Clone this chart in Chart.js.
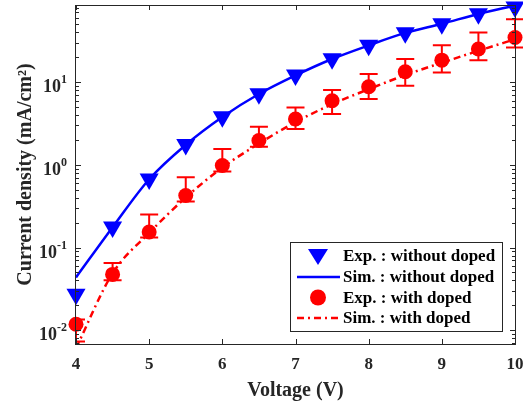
<!DOCTYPE html>
<html>
<head>
<meta charset="utf-8">
<script src="https://cdn.jsdelivr.net/npm/chart.js@4.4.1/dist/chart.umd.min.js"></script>
<style>
  html, body { margin: 0; padding: 0; background: #fff; }
  #wrap { width: 523px; height: 408px; }
</style>
</head>
<body>
<div id="wrap"><canvas id="chart"></canvas></div>
<script>
// Applied voltage (V)
const voltage = [4, 4.5, 5, 5.5, 6, 6.5, 7, 7.5, 8, 8.5, 9, 9.5, 10];

// Current density without doping (mA/cm2)
const expWithout = [0.0272, 0.177, 0.674, 1.76, 3.83, 7.26, 12.2, 19.2, 28.0, 39.6, 50.9, 67.2, 81.6];
const simWithout = [0.0435, 0.176, 0.67, 1.75, 3.8, 7.2, 12.1, 19.1, 27.9, 39.5, 51.0, 67.0, 85.0];

// Current density with doping, plus error bar ends
const expWith = [0.0118, 0.0473, 0.154, 0.426, 0.981, 1.97, 3.59, 5.98, 8.83, 13.4, 18.5, 25.2, 34.8];
const expWithHigh = [0.0135, 0.0648, 0.251, 0.708, 1.56, 2.90, 4.96, 8.05, 12.6, 19.1, 28.1, 39.9, 58.0];
const expWithLow = [0.0073, 0.0401, 0.132, 0.360, 0.830, 1.66, 2.72, 4.13, 6.27, 9.07, 13.1, 18.5, 26.3];
const simWith = [0.00605, 0.0487, 0.150, 0.403, 0.928, 1.81, 3.29, 5.42, 8.23, 12.2, 17.2, 24.0, 33.1];

const seriesLabels = ['Exp. : without doped', 'Sim. : without doped', 'Exp. : with doped', 'Sim. : with doped'];

// axis range and ticks
const xMin = 4, xMax = 10;
const yMin = 0.0068, yMax = 86;
const xTicks = [4, 5, 6, 7, 8, 9, 10];
const yTicks = [0.01, 0.1, 1, 10];
const yTickExp = ['-2', '-1', '0', '1'];

const serif = '"Liberation Serif", "Times New Roman", serif';
const axisColor = '#262626';
const blue = '#0000ff';
const red = '#ff0000';
const dashDot = [7, 4, 2, 4];

function pts(arr) {
    return voltage.map((v, i) => ({ x: v, y: arr[i] }));
}

// error bars for the doped measurements
const errorBarPlugin = {
    id: 'errorBars',
    afterDatasetsDraw(chart) {
        const { ctx, chartArea: a, scales: { x, y } } = chart;
        ctx.save();
        ctx.beginPath();
        ctx.rect(a.left, 0, a.right - a.left + 20, chart.height);
        ctx.clip();
        ctx.strokeStyle = red;
        ctx.lineWidth = 2;
        ctx.beginPath();
        voltage.forEach((v, i) => {
            const px = x.getPixelForValue(v);
            const hi = y.getPixelForValue(expWithHigh[i]);
            const lo = y.getPixelForValue(expWithLow[i]);
            ctx.moveTo(px, hi); ctx.lineTo(px, lo);
            ctx.moveTo(px - 9, hi); ctx.lineTo(px + 9, hi);
            ctx.moveTo(px - 9, lo); ctx.lineTo(px + 9, lo);
        });
        ctx.stroke();
        ctx.restore();
    }
};

// box, inward ticks on all four sides, tick labels
const framePlugin = {
    id: 'frame',
    afterDraw(chart) {
        const { ctx, chartArea: a, scales: { x, y } } = chart;
        ctx.save();
        ctx.strokeStyle = axisColor;
        ctx.lineWidth = 1;
        ctx.strokeRect(a.left - 0.5, a.top + 0.5, a.right - a.left + 1, a.bottom - a.top);
        ctx.beginPath();
        xTicks.forEach(v => {
            const px = Math.round(x.getPixelForValue(v)) + 0.5;
            ctx.moveTo(px, a.bottom); ctx.lineTo(px, a.bottom - 5);
            ctx.moveTo(px, a.top); ctx.lineTo(px, a.top + 5);
        });
        for (let e = Math.floor(Math.log10(yMin)); e <= Math.ceil(Math.log10(yMax)); e++) {
            for (let s = 1; s <= 9; s++) {
                const v = s * Math.pow(10, e);
                if (v < yMin || v > yMax) continue;
                const py = Math.round(y.getPixelForValue(v)) + 0.5;
                const len = s === 1 ? 5 : 3;
                ctx.moveTo(a.left, py); ctx.lineTo(a.left + len, py);
                ctx.moveTo(a.right, py); ctx.lineTo(a.right - len, py);
            }
        }
        ctx.stroke();

        ctx.fillStyle = axisColor;
        ctx.textBaseline = 'alphabetic';
        ctx.textAlign = 'center';
        ctx.font = 'bold 17px ' + serif;
        xTicks.forEach(v => {
            ctx.fillText(String(v), x.getPixelForValue(v), a.bottom + 25);
        });

        ctx.textAlign = 'left';
        const right = a.left - 9;
        yTicks.forEach((v, i) => {
            const py = y.getPixelForValue(v);
            ctx.font = 'bold 12px ' + serif;
            const w2 = ctx.measureText(yTickExp[i]).width;
            ctx.fillText(yTickExp[i], right - w2, py + 1);
            ctx.font = 'bold 18px ' + serif;
            const w1 = ctx.measureText('10').width;
            ctx.fillText('10', right - w2 - w1, py + 10);
        });
        ctx.restore();
    }
};

// legend box inside the plot, lower right
const legendPlugin = {
    id: 'boxLegend',
    afterDraw(chart) {
        const { ctx } = chart;
        const bx = 290, by = 242, bw = 212, bh = 89;
        ctx.save();
        ctx.fillStyle = '#fff';
        ctx.fillRect(bx, by, bw, bh);
        ctx.strokeStyle = axisColor;
        ctx.lineWidth = 1;
        ctx.strokeRect(bx + 0.5, by + 0.5, bw, bh);
        const rows = [256, 277, 297.5, 318];
        const mx = 318;
        // triangle
        ctx.fillStyle = blue;
        ctx.beginPath();
        ctx.moveTo(mx - 10, rows[0] - 7);
        ctx.lineTo(mx + 10, rows[0] - 7);
        ctx.lineTo(mx, rows[0] + 9);
        ctx.closePath();
        ctx.fill();
        // blue line
        ctx.strokeStyle = blue;
        ctx.lineWidth = 2.5;
        ctx.beginPath();
        ctx.moveTo(297, rows[1]); ctx.lineTo(340, rows[1]);
        ctx.stroke();
        // circle
        ctx.fillStyle = red;
        ctx.beginPath();
        ctx.arc(mx, rows[2], 8, 0, Math.PI * 2);
        ctx.fill();
        // dash-dot line
        ctx.strokeStyle = red;
        ctx.setLineDash(dashDot);
        ctx.beginPath();
        ctx.moveTo(297, rows[3]); ctx.lineTo(340, rows[3]);
        ctx.stroke();
        ctx.setLineDash([]);

        ctx.fillStyle = '#000';
        ctx.font = 'bold 17px ' + serif;
        ctx.textBaseline = 'middle';
        seriesLabels.forEach((t, i) => ctx.fillText(t, 343, rows[i] + 1));
        ctx.restore();
    }
};

const chart = new Chart(document.getElementById('chart').getContext('2d'), {
    type: 'line',
    data: {
        datasets: [
            {
                label: seriesLabels[0], data: pts(expWithout), showLine: false,
                pointStyle: 'triangle', rotation: 180, pointRadius: 11,
                backgroundColor: blue, borderColor: blue, borderWidth: 0, clip: false, order: 0
            },
            {
                label: seriesLabels[1], data: pts(simWithout), pointRadius: 0,
                borderColor: blue, borderWidth: 2.5, cubicInterpolationMode: 'monotone', order: 1
            },
            {
                label: seriesLabels[2], data: pts(expWith), showLine: false,
                pointStyle: 'circle', pointRadius: 7.5,
                backgroundColor: red, borderColor: red, borderWidth: 0, clip: false, order: 0
            },
            {
                label: seriesLabels[3], data: pts(simWith), pointRadius: 0,
                borderColor: red, borderWidth: 2.5, borderDash: dashDot,
                cubicInterpolationMode: 'monotone', order: 1
            }
        ]
    },
    options: {
        responsive: true,
        maintainAspectRatio: false,
        animation: false,
        events: [],
        layout: { autoPadding: false, padding: { top: 5, right: 8, left: 0, bottom: 0 } },
        plugins: { legend: { display: false }, tooltip: { enabled: false } },
        scales: {
            x: {
                type: 'linear', min: xMin, max: xMax,
                grid: { display: false, drawTicks: false },
                border: { display: false },
                afterFit: s => { s.height = 64; },
                ticks: { display: false },
                title: {
                    display: true, text: 'Voltage (V)', color: axisColor,
                    font: { family: serif, size: 20, weight: 'bold' },
                    padding: { top: 0, bottom: 5 }
                }
            },
            y: {
                type: 'logarithmic', min: yMin, max: yMax,
                grid: { display: false, drawTicks: false },
                border: { display: false },
                afterFit: s => { s.width = 76; },
                ticks: { display: false },
                title: {
                    display: true, text: 'Current density (mA/cm²)', color: axisColor,
                    font: { family: serif, size: 20, weight: 'bold' },
                    padding: { top: 14, bottom: 0 }
                }
            }
        }
    },
    plugins: [errorBarPlugin, framePlugin, legendPlugin]
});
</script>
</body>
</html>
